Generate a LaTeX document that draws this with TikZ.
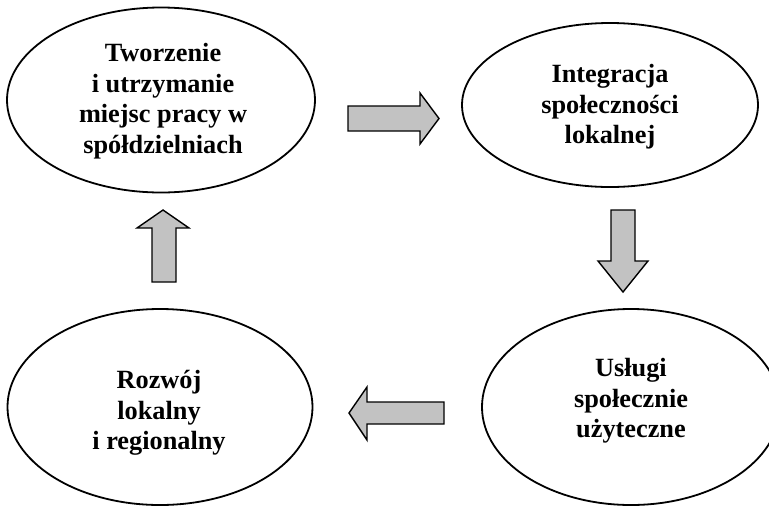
\documentclass[tikz,border=0pt]{standalone}
\usepackage{fontspec}
\setmainfont{Liberation Serif}
\usetikzlibrary{shapes.geometric}
\tikzset{
  oval/.style={ellipse, draw=black, line width=1.8pt, inner sep=0pt},
  ovaltext/.style={inner sep=0pt, align=center,
    font=\fontsize{26.3}{30.5}\selectfont\bfseries},
  blockarrow/.style={draw=black, line width=1.4pt, fill=black!24, line join=miter}
}
\begin{document}
\begin{tikzpicture}[x=1pt,y=-1pt]
\useasboundingbox (0,0) rectangle (769,507);
\clip (0,0) rectangle (769,507);
\node[oval, minimum width=308pt, minimum height=185pt] (tl) at (161,100) {};
\node[ovaltext] (tltext) at (163,101)
  {Tworzenie\\i utrzymanie\\miejsc pracy w\\spółdzielniach};
\node[oval, minimum width=296pt, minimum height=164pt] (tr) at (610,105) {};
\node[ovaltext] (trtext) at (610,107)
  {Integracja\\społeczności\\lokalnej};
\node[oval, minimum width=298pt, minimum height=196pt] (br) at (631,407) {};
\node[ovaltext] (brtext) at (631,401)
  {Usługi\\społecznie\\użyteczne};
\node[oval, minimum width=305pt, minimum height=196pt] (bl) at (160,407) {};
\node[ovaltext] (bltext) at (159,413)
  {Rozwój\\lokalny\\i regionalny};
% block arrows
\draw[blockarrow] (348,106) -- (420,106) -- (420,93) -- (439,118.5) -- (420,144) -- (420,131) -- (348,131) -- cycle;
\draw[blockarrow] (611,210) -- (635,210) -- (635,261) -- (648,261) -- (623,292) -- (598,261) -- (611,261) -- cycle;
\draw[blockarrow] (152,282) -- (152,228) -- (137,228) -- (163,210) -- (189,228) -- (176,228) -- (176,282) -- cycle;
\draw[blockarrow] (444,402) -- (367,402) -- (367,387) -- (349,413) -- (367,440) -- (367,424) -- (444,424) -- cycle;
\end{tikzpicture}
\end{document}
